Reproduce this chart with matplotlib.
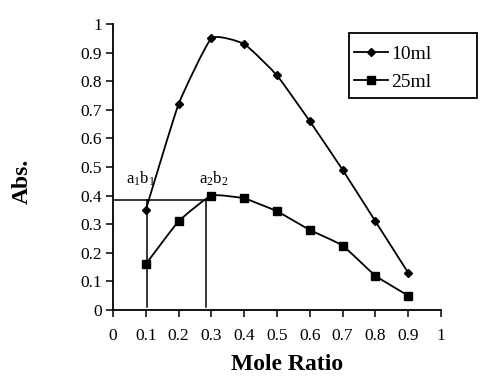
import matplotlib
matplotlib.use('Agg')
import matplotlib.pyplot as plt
from matplotlib.path import Path
from matplotlib.patches import PathPatch, Rectangle
from matplotlib.lines import Line2D
import numpy as np

plt.rcParams['font.family'] = 'Liberation Serif'
plt.rcParams['mathtext.fontset'] = 'custom'
plt.rcParams['mathtext.rm'] = 'Liberation Serif'

mole_ratio = [0.1, 0.2, 0.3, 0.4, 0.5, 0.6, 0.7, 0.8, 0.9]
abs_10ml = [0.35, 0.72, 0.95, 0.93, 0.82, 0.66, 0.49, 0.31, 0.13]
abs_25ml = [0.16, 0.31, 0.40, 0.39, 0.345, 0.28, 0.225, 0.12, 0.05]
tick_labels = ['0', '0.1', '0.2', '0.3', '0.4', '0.5', '0.6', '0.7', '0.8', '0.9', '1']

# intersection guide lines
x_cross1 = 0.103
x_cross2 = 0.283
y_cross = 0.385


def smooth_path(x, y, k=14.0):
    # excel style smoothed line (bezier through the points)
    pts = np.column_stack([x, y])
    n = len(pts)
    verts = [pts[0]]
    codes = [Path.MOVETO]
    for i in range(n - 1):
        p0 = pts[max(i - 1, 0)]
        p1 = pts[i]
        p2 = pts[i + 1]
        p3 = pts[min(i + 2, n - 1)]
        c1 = p1 + (p2 - p0) / k
        c2 = p2 - (p3 - p1) / k
        verts += [c1, c2, p2]
        codes += [Path.CURVE4] * 3
    return Path(verts, codes)


fig = plt.figure(figsize=(4.8, 3.81), dpi=100)
ax = fig.add_axes([0.2354, 0.1864, 0.6834, 0.7506])

ax.add_patch(PathPatch(smooth_path(mole_ratio, abs_10ml), fill=False, lw=1.3, color='black'))
ax.add_patch(PathPatch(smooth_path(mole_ratio, abs_25ml), fill=False, lw=1.3, color='black'))
ax.plot(mole_ratio, abs_10ml, linestyle='none', marker='D', ms=4.5, color='black')
ax.plot(mole_ratio, abs_25ml, linestyle='none', marker='s', ms=6, color='black')

ax.plot([x_cross1, x_cross1], [0.012, y_cross], color='black', lw=1.1)
ax.plot([x_cross2, x_cross2], [0.012, y_cross], color='black', lw=1.1)
ax.plot([0, x_cross2], [y_cross, y_cross], color='black', lw=1.1)

ax.text(0.040, 0.46, r'$\mathregular{a_1b_1}$', fontsize=12, va='center', ha='left')
ax.text(0.262, 0.46, r'$\mathregular{a_2b_2}$', fontsize=12, va='center', ha='left')

ax.set_xlim(0, 1)
ax.set_ylim(0, 1)
ax.set_xticks(np.arange(0, 1.01, 0.1))
ax.set_yticks(np.arange(0, 1.01, 0.1))
ax.set_xticklabels(tick_labels)
ax.set_yticklabels(tick_labels)
ax.tick_params(direction='out', length=5, width=1.1, labelsize=12.5, pad=3)
ax.tick_params(axis='x', pad=8)
for s in ['top', 'right']:
    ax.spines[s].set_visible(False)
for s in ['left', 'bottom']:
    ax.spines[s].set_linewidth(1.3)

ax.set_xlabel('Mole Ratio', fontsize=17, fontweight='bold')
ax.xaxis.set_label_coords((287 - 113) / 328, -(365 - 310) / 286, transform=ax.transAxes)
ax.xaxis.label.set_va('center')
ax.set_ylabel('Abs.', fontsize=17, fontweight='bold')
ax.yaxis.set_label_coords(-(113 - 22) / 328, (310 - 181) / 286, transform=ax.transAxes)
ax.yaxis.label.set_va('center')

# legend frame is wider than its content
fig.patches.append(Rectangle((349 / 480, 1 - 98 / 381), 128 / 480, 65 / 381,
                             transform=fig.transFigure, fill=False,
                             edgecolor='black', lw=1.3))
handles = [Line2D([], [], color='black', lw=1.3, marker='D', ms=4.5),
           Line2D([], [], color='black', lw=1.3, marker='s', ms=5.5)]
fig.legend(handles, ['10ml', '25ml'], loc='upper left',
           bbox_to_anchor=(354 / 480, 1 - 45 / 381), fontsize=14,
           frameon=False, handlelength=1.75, handletextpad=0.15,
           borderpad=0, labelspacing=0.55, borderaxespad=0)

fig.savefig('out.png', dpi=100)
